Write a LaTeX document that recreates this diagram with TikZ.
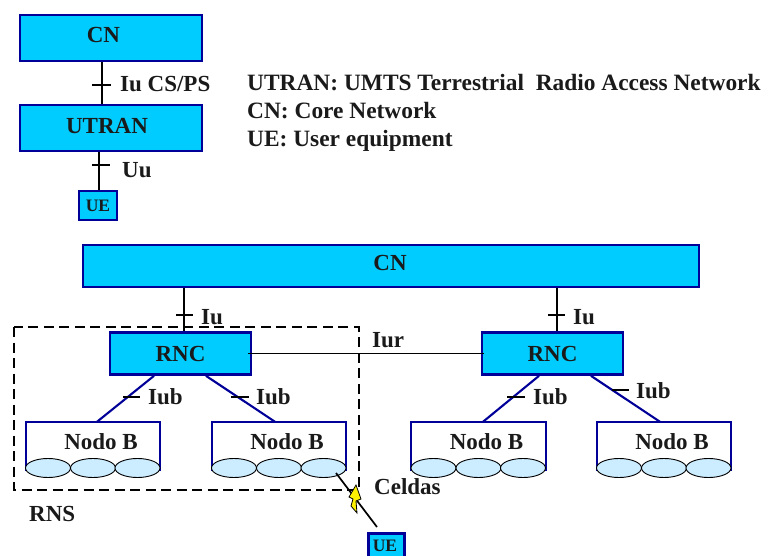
\documentclass[tikz,border=0pt]{standalone}
\usepackage{fontspec}
\setmainfont{Liberation Serif}
\usetikzlibrary{shapes.geometric}
\definecolor{boxfill}{HTML}{00CCFF}
\definecolor{boxline}{HTML}{000099}
\definecolor{cellfill}{HTML}{CCECFF}
\definecolor{inkc}{HTML}{1A1A1A}
\tikzset{
  boxfont/.style={font=\fontsize{23}{26}\selectfont\bfseries,text=inkc},
  uefont/.style={font=\fontsize{17.5}{20}\selectfont\bfseries,text=inkc},
  bluebox/.style={draw=boxline,line width=2.7pt,fill=boxfill,inner sep=0pt,boxfont},
  uebox/.style={bluebox,uefont},
  lbl/.style={anchor=base west,inner sep=0pt,font=\fontsize{23}{26}\selectfont\bfseries,text=inkc},
  legend/.style={lbl,font=\fontsize{23.4}{26}\selectfont\bfseries},
  link/.style={draw=black,line width=1.2pt},
  iub/.style={draw=boxline,line width=2.1pt},
  nodeb/.style={inner sep=0pt,minimum width=134pt,minimum height=49pt},
  cell/.style={ellipse,draw=black,line width=0.9pt,fill=cellfill,minimum width=45pt,minimum height=19pt,inner sep=0pt},
}
\newcommand{\nodob}[3]{%
  \node[nodeb] (#1) at (#2,#3) {};
  \draw[draw=boxline,line width=2.1pt] (#1.south west) -- (#1.north west) -- (#1.north east) -- (#1.south east);
  \node[lbl,anchor=base] (#1t) at (#2+8,#3+2.5) {Nodo B};
  \node[cell] (#1a) at (#2-45,#3+21.5) {};
  \node[cell] (#1b) at (#2,#3+21.5) {};
  \node[cell] (#1c) at (#2+44.5,#3+21.5) {};
}
\begin{document}
\begin{tikzpicture}[x=1pt,y=-1pt]
\useasboundingbox (0,0) rectangle (763,556);
\clip (0,0) rectangle (763,556);
% upper diagram
\node[bluebox,minimum width=182pt,minimum height=46pt] (cntop) at (111,38) {};
\node[boxfont] (cntopt) at (103.5,35.5) {CN};
\node[bluebox,minimum width=182pt,minimum height=46pt] (utran) at (111,128) {};
\node[boxfont] (utrant) at (107,126) {UTRAN};
\node[uebox,minimum width=38pt,minimum height=29pt] (uetop) at (98,205.5) {UE};
\draw[link] ([xshift=-9pt]cntop.south) -- ([xshift=-9pt]utran.north);
\draw[link] (92,85) -- (111,85);
\draw[link] ([xshift=1pt]uetop.north) -- ([xshift=1pt]uetop.north |- utran.south);
\draw[link] (92,165) -- (110,165);
\node[lbl] (l1) at (120,92) {Iu CS/PS};
\node[lbl] (l2) at (122,178) {Uu};
\node[legend] (t1) at (247,91) {UTRAN: UMTS Terrestrial\ \ Radio Access Network};
\node[legend] (t2) at (247,119) {CN: Core Network};
\node[legend] (t3) at (247,147) {UE: User equipment};
% lower diagram
\node[bluebox,minimum width=616pt,minimum height=42pt] (cnbig) at (391,266) {};
\node[boxfont] (cnbigt) at (390,263) {CN};
\node[bluebox,minimum width=141pt,minimum height=42pt] (rnca) at (180.5,353.5) {RNC};
\node[bluebox,minimum width=141pt,minimum height=42pt] (rncb) at (552.5,353.5) {RNC};
\nodob{nba}{93}{446.5}
\nodob{nbb}{279}{446.5}
\nodob{nbc}{478.5}{446.5}
\nodob{nbd}{664}{446.5}
\draw[link] ([xshift=3.5pt]rnca.north) -- ([xshift=3.5pt]rnca.north |- cnbig.south);
\draw[link] ([xshift=4.5pt]rncb.north) -- ([xshift=4.5pt]rncb.north |- cnbig.south);
\draw[link] (176,315) -- (193,315);
\draw[link] (548,315) -- (565,315);
\draw[link] ([xshift=-4pt]rnca.east) -- ([xshift=3pt]rncb.west);
\draw[iub] ([xshift=-26.5pt]rnca.south) -- ([xshift=4pt]nba.north);
\draw[iub] ([xshift=25.5pt]rnca.south) -- ([xshift=-4pt]nbb.north);
\draw[iub] ([xshift=-13.5pt]rncb.south) -- ([xshift=4.5pt]nbc.north);
\draw[iub] ([xshift=38.5pt]rncb.south) -- ([xshift=-4pt]nbd.north);
\draw[link] (123,397) -- (140,397);
\draw[link] (231,397) -- (249,397);
\draw[link] (507,397) -- (525,397);
\draw[link] (612,390) -- (629,390);
\node[lbl] (i1) at (201,324) {Iu};
\node[lbl] (i2) at (573,324) {Iu};
\node[lbl] (i3) at (372,347) {Iur};
\node[lbl] (i4) at (148,404) {Iub};
\node[lbl] (i5) at (256,404) {Iub};
\node[lbl] (i6) at (533,404) {Iub};
\node[lbl] (i7) at (636,398) {Iub};
\node[lbl] (celdas) at (374,494) {Celdas};
\node[lbl] (rns) at (29,521) {RNS};
\draw[black,line width=2.6pt,dash pattern=on 10pt off 5.5pt] (14,327) rectangle (359,490);
\node[uebox,minimum width=36pt,minimum height=30pt,anchor=north west] (uebot) at (367,532) {};
\node[uefont] (uebott) at (385,546) {UE};
% radio link
\coordinate (r1) at (336,473);
\coordinate (r2) at (377,527);
\draw[black,line width=1.7pt] (r1) -- (r2);
\draw[draw=black,line width=0.8pt,fill=yellow] (356,485) -- (349,497) -- (353,499) -- (351,506) -- (357,513) -- (356,501) -- (361,499) -- cycle;
\end{tikzpicture}
\end{document}
